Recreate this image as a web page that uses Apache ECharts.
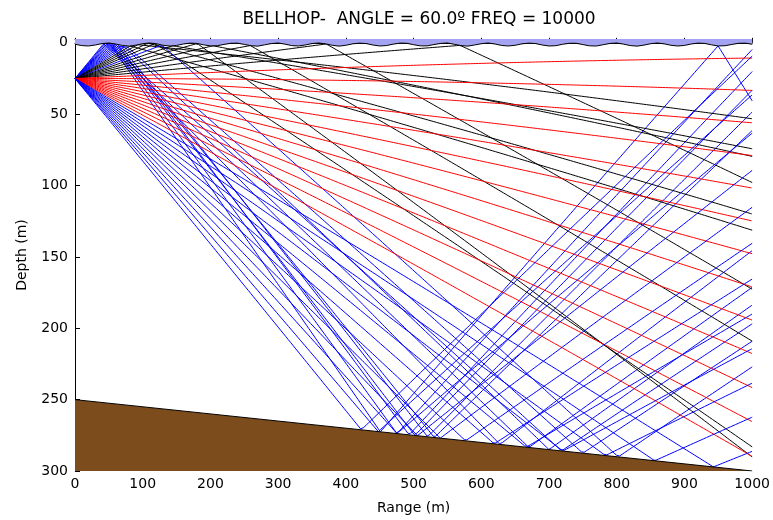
<!DOCTYPE html>
<html>
<head>
<meta charset="utf-8">
<script src="https://cdn.jsdelivr.net/npm/echarts@6/dist/echarts.min.js"></script>
<style>html,body{margin:0;padding:0;background:#fff}#c{width:773px;height:520px}</style>
</head>
<body>
<div id="c"></div>
<script>
// ---- data ----
const titleText = 'BELLHOP-  ANGLE = 60.0\u00BA FREQ = 10000';
const xTicks = [0, 100, 200, 300, 400, 500, 600, 700, 800, 900, 1000];
const yTicks = [0, 50, 100, 150, 200, 250, 300];
const sourceRange = 0;
const sourceDepth = 25;
const maxRange = 1000;
// launch angles of the ray fan (deg, positive = downward)
const launchAngles = [-30, -28.70, -27.39, -26.09, -24.78, -23.48, -22.17, -20.87, -19.57, -18.26,
  -16.96, -15.65, -14.35, -13.04, -11.74, -10.43, -9.13, -7.83, -6.52, -5.22, -3.91, -2.61, -1.30,
  0, 1.30, 2.61, 3.91, 5.22, 6.52, 7.83, 9.13, 10.43, 11.74, 13.04, 14.35, 15.65, 16.96, 18.26,
  19.57, 20.87, 22.17, 23.48, 24.78, 26.09, 27.39, 28.70, 30];
// sound speed profile
const sspDepth = [0, 300];
const sspSpeed = [1500, 1492.5];
// sea surface (altimetry), depth in m, every 10 m
const surfaceRange = [0,10,20,30,40,50,60,70,80,90,100,110,120,130,140,150,160,170,180,190,200,210,220,230,240,250,260,270,280,290,300,310,320,330,340,350,360,370,380,390,400,410,420,430,440,450,460,470,480,490,500,510,520,530,540,550,560,570,580,590,600,610,620,630,640,650,660,670,680,690,700,710,720,730,740,750,760,770,780,790,800,810,820,830,840,850,860,870,880,890,900,910,920,930,940,950,960,970,980,990,1000];
const surfaceDepth = [1.0,1.9,2.2,1.5,0.5,0.1,0.8,1.8,2.3,1.6,0.6,0.1,0.6,1.7,2.2,1.8,0.8,0.2,0.4,1.4,
  2.1,2.0,1.1,0.3,0.2,1.1,2.0,2.3,1.4,0.5,0.1,0.9,1.9,2.2,1.5,0.5,0.1,0.7,1.7,2.3,
  1.7,0.7,0.2,0.5,1.5,2.2,1.9,0.9,0.2,0.3,1.3,2.1,2.1,1.2,0.4,0.1,1.0,1.9,2.3,1.5,
  0.6,0.1,0.8,1.8,2.2,1.7,0.7,0.2,0.5,1.5,2.2,2.0,1.0,0.3,0.3,1.2,2.1,2.2,1.3,0.4,
  0.1,0.9,1.9,2.3,1.6,0.6,0.1,0.7,1.7,2.2,1.8,0.8,0.2,0.4,1.4,2.2,2.0,1.1,0.3,0.2,1.0];
// sea bottom (bathymetry)
const bottomRange = [0, 1000];
const bottomDepth = [250, 300];

// ---- helpers ----
function interp(xs, ys, x) {
  if (x <= xs[0]) return ys[0];
  for (let i = 1; i < xs.length; i++) {
    if (x <= xs[i]) { const t = (x - xs[i-1]) / (xs[i] - xs[i-1]); return ys[i-1] + t * (ys[i] - ys[i-1]); }
  }
  return ys[ys.length - 1];
}
function slopeAt(xs, ys, x) {
  for (let i = 1; i < xs.length; i++) if (x <= xs[i]) return (ys[i] - ys[i-1]) / (xs[i] - xs[i-1]);
  const n = xs.length; return (ys[n-1] - ys[n-2]) / (xs[n-1] - xs[n-2]);
}
function soundSpeed(z) {
  const zz = Math.max(0, Math.min(z, sspDepth[sspDepth.length-1]));
  return { c: interp(sspDepth, sspSpeed, zz), g: slopeAt(sspDepth, sspSpeed, zz) };
}
function traceRay(angleDeg) {
  let x = sourceRange, z = sourceDepth, th = angleDeg * Math.PI / 180;
  const pts = [[x, z]];
  let nTop = 0, nBot = 0, guard = 0;
  const ds = 2, minTh = 0.004;
  while (guard++ < 8000) {
    const s = soundSpeed(z);
    const k = s.g / s.c;
    const thMid = th - 0.5 * ds * k * Math.cos(th);
    const nx = x + ds * Math.cos(thMid), nz = z + ds * Math.sin(thMid);
    const nth = th - ds * k * Math.cos(thMid);
    const zs0 = interp(surfaceRange, surfaceDepth, x), zs1 = interp(surfaceRange, surfaceDepth, nx);
    if (nz < zs1) { // surface reflection
      const d0 = z - zs0, d1 = nz - zs1;
      const f = d0 <= 0 ? 0 : d0 / (d0 - d1);
      const hx = x + f * (nx - x), hz = z + f * (nz - z);
      if (hx >= maxRange) { const f2 = (maxRange - x) / (nx - x); pts.push([maxRange, z + f2 * (nz - z)]); break; }
      pts.push([hx, hz]);
      const alpha = Math.atan(slopeAt(surfaceRange, surfaceDepth, hx));
      th = 2 * alpha - nth;
      if (th < minTh) th = minTh;
      x = hx; z = hz; nTop++; continue;
    }
    const zb0 = interp(bottomRange, bottomDepth, x), zb1 = interp(bottomRange, bottomDepth, nx);
    if (nz > zb1) { // bottom reflection
      const d0 = zb0 - z, d1 = zb1 - nz;
      const f = d0 <= 0 ? 0 : d0 / (d0 - d1);
      const hx = x + f * (nx - x), hz = z + f * (nz - z);
      if (hx >= maxRange) { const f2 = (maxRange - x) / (nx - x); pts.push([maxRange, z + f2 * (nz - z)]); break; }
      pts.push([hx, hz]);
      const beta = Math.atan(slopeAt(bottomRange, bottomDepth, hx));
      th = 2 * beta - nth;
      if (th > -minTh) th = -minTh;
      x = hx; z = hz; nBot++; continue;
    }
    if (nx >= maxRange) { const f2 = (maxRange - x) / (nx - x); pts.push([maxRange, z + f2 * (nz - z)]); break; }
    if (nx < 0) break;
    x = nx; z = nz; th = nth; pts.push([x, z]);
  }
  return { pts, nTop, nBot };
}

const raySeries = launchAngles.map(a => {
  const r = traceRay(a);
  const color = r.nBot > 0 ? '#0000ff' : (r.nTop > 0 ? '#000000' : '#ff0000');
  return {
    type: 'line', data: r.pts, showSymbol: false, symbol: 'none', silent: true,
    lineStyle: { color, width: 1 }, z: 2, animation: false
  };
});

const surfaceData = surfaceRange.map((r, i) => [r, surfaceDepth[i]]);
const bottomData = bottomRange.map((r, i) => [r, bottomDepth[i]]);

const chart = echarts.init(document.getElementById('c'), null, { renderer: 'canvas' });
chart.setOption({
  animation: false,
  backgroundColor: '#ffffff',
  title: {
    text: titleText, left: 414, top: 6, textAlign: 'center',
    textStyle: { fontFamily: 'DejaVu Sans', fontSize: 17, fontWeight: 'normal', color: '#000' }
  },
  grid: { left: 75, right: 19, top: 39, bottom: 43 },
  xAxis: [{
    type: 'value', min: 0, max: 1000, interval: 100,
    name: 'Range (m)', nameLocation: 'middle', nameGap: 30,
    nameTextStyle: { fontFamily: 'DejaVu Sans', fontSize: 14, color: '#000' },
    axisLine: { show: true, lineStyle: { color: '#000', width: 1 } },
    axisTick: { show: true, inside: true, length: 5, lineStyle: { color: '#000' } },
    axisLabel: { fontFamily: 'DejaVu Sans', fontSize: 14, color: '#000', margin: 6,
      formatter: v => String(v), showMaxLabel: true, showMinLabel: true },
    splitLine: { show: false }
  }, {
    type: 'value', min: 0, max: 1000, position: 'top',
    axisLine: { show: true, lineStyle: { color: '#333', width: 1 } },
    axisTick: { show: false }, axisLabel: { show: false }, splitLine: { show: false }
  }],
  yAxis: {
    type: 'value', inverse: true, min: -2.7, max: 300,
    name: 'Depth (m)', nameLocation: 'middle', nameGap: 46, nameRotate: 90,
    nameTextStyle: { fontFamily: 'DejaVu Sans', fontSize: 14, color: '#000' },
    axisLine: { show: true, onZero: false, lineStyle: { color: '#000', width: 1 } },
    axisTick: { show: true, inside: true, length: 5, customValues: yTicks, lineStyle: { color: '#000' } },
    axisLabel: { fontFamily: 'DejaVu Sans', fontSize: 14, color: '#000', margin: 7, customValues: yTicks },
    splitLine: { show: false }
  },
  series: raySeries.concat([
    {
      type: 'line', data: surfaceData, showSymbol: false, symbol: 'none', silent: true, z: 5,
      lineStyle: { color: '#000', width: 1 },
      areaStyle: { origin: 'start', color: '#a3a3f2', opacity: 1 }
    },
    {
      type: 'line', data: bottomData, showSymbol: false, symbol: 'none', silent: true, z: 5,
      lineStyle: { color: '#000', width: 1 },
      areaStyle: { origin: 'end', color: '#7d4c1d', opacity: 1 }
    }
  ])
});
</script>
</body>
</html>
